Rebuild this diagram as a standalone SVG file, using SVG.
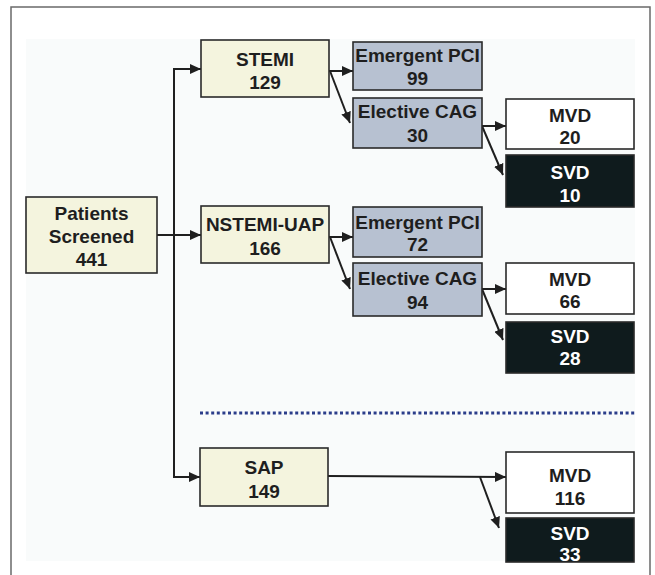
<svg xmlns="http://www.w3.org/2000/svg" width="655" height="575" viewBox="0 0 655 575">
  <defs>
    <marker id="arrow" markerUnits="userSpaceOnUse" markerWidth="12" markerHeight="10" refX="11" refY="5" orient="auto">
      <path d="M0,0 L11,5 L0,10 Z" fill="#1f1f1f"/>
    </marker>
    <style>
      .frame { fill: none; stroke: #6a6a6a; stroke-width: 1.5; }
      .box { stroke: #2a2a2a; stroke-width: 1.6; }
      .cream { fill: #f4f4de; }
      .steel { fill: #b7c1d1; }
      .white { fill: #ffffff; }
      .dark { fill: #0f1b1d; }
      text { font-family: "Liberation Sans", Arial, sans-serif; font-weight: bold; font-size: 19px; text-anchor: middle; fill: #1e1e1e; }
      .dark-text { fill: #ffffff; }
      .link { fill: none; stroke: #1f1f1f; stroke-width: 2; marker-end: url(#arrow); }
      .trunk { fill: none; stroke: #1f1f1f; stroke-width: 2; }
      .divider { stroke: #2b3d8a; stroke-width: 3; stroke-dasharray: 3 2.6; }
    </style>
  </defs>

  <!-- page frame and panel background -->
  <rect x="0" y="0" width="655" height="575" fill="#ffffff"/>
  <path class="frame" d="M11,575 L11,7 L650,7 L650,575"/>
  <rect x="26" y="39" width="609" height="522" fill="#f9fbfb"/>

  <!-- connectors -->
  <g id="connectors">
    <path class="trunk" d="M174,69 L174,477"/>
    <path class="link" d="M173,69 L201,69"/>
    <path class="link" d="M157,235 L201,235"/>
    <path class="link" d="M173,477 L200,477"/>

    <path class="link" d="M329,71 L353,71"/>
    <path class="link" d="M330,71 L350,123"/>
    <path class="link" d="M482,126 L506,126"/>
    <path class="link" d="M482,126 L503,175"/>

    <path class="link" d="M329,237 L353,237"/>
    <path class="link" d="M330,237 L350,289"/>
    <path class="link" d="M482,289 L506,289"/>
    <path class="link" d="M482,289 L503,340"/>

    <path class="link" d="M328,476 L506,477"/>
    <path class="link" d="M480,477 L499,528"/>

    <line class="divider" x1="200" y1="413" x2="635" y2="413"/>
  </g>

  <!-- root -->
  <g id="patients-screened">
    <rect class="box cream" x="26" y="197" width="131" height="76"/>
    <text x="91.5" y="220">Patients</text>
    <text x="91.5" y="242.5">Screened</text>
    <text x="91.5" y="266">441</text>
  </g>

  <!-- presentation groups -->
  <g id="stemi">
    <rect class="box cream" x="201" y="40" width="128" height="57"/>
    <text x="265" y="65.5">STEMI</text>
    <text x="265" y="89">129</text>
  </g>
  <g id="nstemi-uap">
    <rect class="box cream" x="201" y="206" width="128" height="57"/>
    <text x="265" y="231">NSTEMI-UAP</text>
    <text x="265" y="254.5">166</text>
  </g>
  <g id="sap">
    <rect class="box cream" x="200" y="448" width="128" height="58"/>
    <text x="264" y="474">SAP</text>
    <text x="264" y="497.5">149</text>
  </g>

  <!-- STEMI branch -->
  <g id="stemi-emergent-pci">
    <rect class="box steel" x="353" y="42" width="129" height="48"/>
    <text x="417.5" y="61.5">Emergent PCI</text>
    <text x="417.5" y="85">99</text>
  </g>
  <g id="stemi-elective-cag">
    <rect class="box steel" x="353" y="98" width="129" height="50"/>
    <text x="417.5" y="117.5">Elective CAG</text>
    <text x="417.5" y="141.5">30</text>
  </g>
  <g id="stemi-mvd">
    <rect class="box white" x="506" y="99" width="128" height="50"/>
    <text x="570" y="121.5">MVD</text>
    <text x="570" y="144">20</text>
  </g>
  <g id="stemi-svd">
    <rect class="box dark" x="506" y="155" width="128" height="52"/>
    <text class="dark-text" x="570" y="178.5">SVD</text>
    <text class="dark-text" x="570" y="201.5">10</text>
  </g>

  <!-- NSTEMI-UAP branch -->
  <g id="nstemi-emergent-pci">
    <rect class="box steel" x="353" y="207" width="129" height="50"/>
    <text x="417.5" y="228.5">Emergent PCI</text>
    <text x="417.5" y="250.5">72</text>
  </g>
  <g id="nstemi-elective-cag">
    <rect class="box steel" x="353" y="263" width="129" height="53"/>
    <text x="417.5" y="284.5">Elective CAG</text>
    <text x="417.5" y="309">94</text>
  </g>
  <g id="nstemi-mvd">
    <rect class="box white" x="506" y="263" width="128" height="51"/>
    <text x="570" y="286">MVD</text>
    <text x="570" y="307.5">66</text>
  </g>
  <g id="nstemi-svd">
    <rect class="box dark" x="506" y="322" width="128" height="51"/>
    <text class="dark-text" x="570" y="343">SVD</text>
    <text class="dark-text" x="570" y="365">28</text>
  </g>

  <!-- SAP branch -->
  <g id="sap-mvd">
    <rect class="box white" x="506" y="452" width="128" height="61"/>
    <text x="570" y="482">MVD</text>
    <text x="570" y="505">116</text>
  </g>
  <g id="sap-svd">
    <rect class="box dark" x="506" y="518" width="128" height="44"/>
    <text class="dark-text" x="570" y="540">SVD</text>
    <text class="dark-text" x="570" y="561">33</text>
  </g>
</svg>
